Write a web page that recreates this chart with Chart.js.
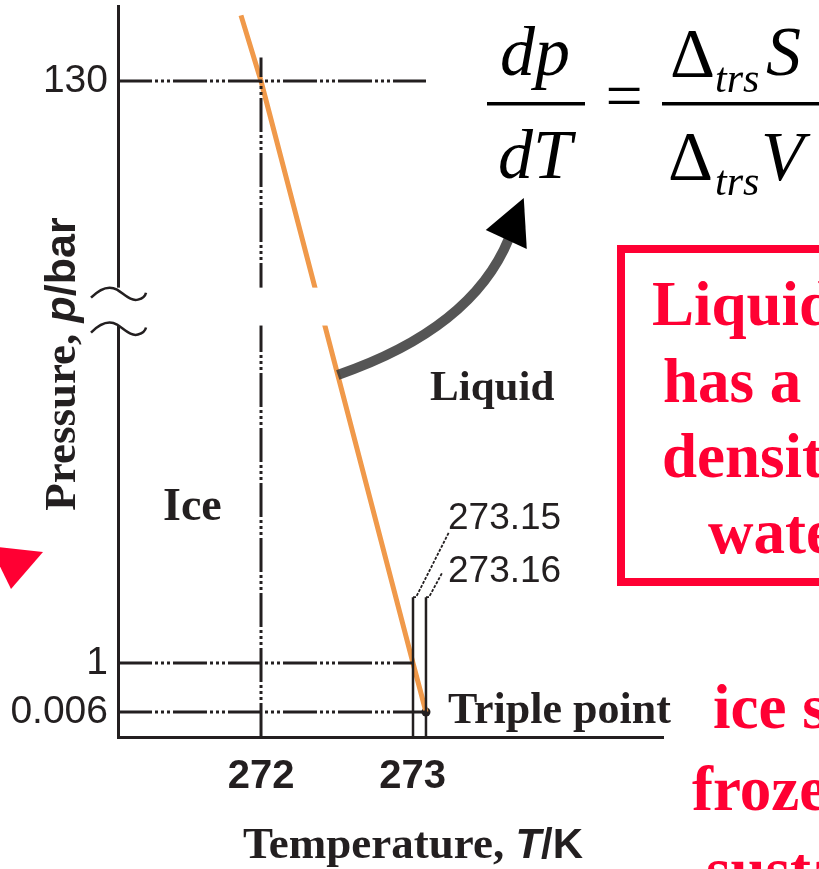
<!DOCTYPE html>
<html><head><meta charset="utf-8">
<script src="https://cdn.jsdelivr.net/npm/chart.js@4.4.0/dist/chart.umd.min.js"></script>
<style>html,body{margin:0;padding:0;background:#fff;}#wrap{width:819px;height:869px;position:relative;overflow:hidden;background:#fff}</style>
</head><body><div id="wrap"><canvas id="c" width="819" height="869"></canvas></div>
<script>
// ---------------- data ----------------
const xTickValues = [272, 273];
const xTickLabels = ['272', '273'];
const yTickValues = [0.006, 1, 130];
const yTickLabels = ['0.006', '1', '130'];
// ice / liquid boundary (melting curve)
const meltT = [271.86, 272, 273.15, 273.16];   // K
const meltP = [144, 130, 1, 0.006];             // bar
const tripleT = 273.16, tripleP = 0.006;
// dash-dot guide lines
const guideP = [130, 1, 0.006];
const guidePEndT = [273.16, 273.15, 273.16];
const guideT = 272, guideTTopP = 135;
// marker lines for 273.15 and 273.16
const markT = [273.15, 273.16];
const markLabels = ['273.15', '273.16'];
const markTopP = 15.6;
// axis break (pressure range hidden by the break)
const breakP = [75.8, 84.2];

// ---------------- broken (piecewise) axes ----------------
const xAnchors = [[271, 0], [272, 0.2624], [273, 0.5404], [273.15, 0.5413], [273.16, 0.5651], [274, 1]];
const yAnchors = [[0, 0], [0.006, 0.0342], [1, 0.1012], [130, 0.8974], [146, 1]];

function makeBroken(id, anchors, tickValues) {
  class Broken extends Chart.LinearScale {
    determineDataLimits() { this.min = anchors[0][0]; this.max = anchors[anchors.length - 1][0]; }
    buildTicks() { return tickValues.map(v => ({ value: v })); }
    _dec(v) {
      const a = anchors;
      if (v <= a[0][0]) return a[0][1] + (v - a[0][0]) * (a[1][1] - a[0][1]) / (a[1][0] - a[0][0]);
      for (let i = 1; i < a.length; i++) {
        if (v <= a[i][0]) return a[i-1][1] + (v - a[i-1][0]) * (a[i][1] - a[i-1][1]) / (a[i][0] - a[i-1][0]);
      }
      const n = a.length - 1;
      return a[n][1] + (v - a[n][0]) * (a[n][1] - a[n-1][1]) / (a[n][0] - a[n-1][0]);
    }
    getPixelForValue(v) { return (v === null || v === undefined) ? NaN : this.getPixelForDecimal(this._dec(v)); }
    getValueForPixel(p) {
      const d = this.getDecimalForPixel(p), a = anchors;
      for (let i = 1; i < a.length; i++) {
        if (d <= a[i][1]) return a[i-1][0] + (d - a[i-1][1]) * (a[i][0] - a[i-1][0]) / (a[i][1] - a[i-1][1]);
      }
      return a[a.length - 1][0];
    }
  }
  Broken.id = id;
  Broken.defaults = {};
  return Broken;
}
Chart.register(makeBroken('brokenX', xAnchors, xTickValues), makeBroken('brokenY', yAnchors, yTickValues));

// ---------------- styles ----------------
const INK = '#231f20';
const RED = '#ff0033';
const ORANGE = '#f0994a';
const DASHDOT = [34, 3, 3, 3, 3, 3, 3, 3];

const datasets = [];
guideP.forEach((p, i) => datasets.push({
  data: [{ x: xAnchors[0][0], y: p }, { x: guidePEndT[i], y: p }],
  borderColor: INK, borderWidth: 3, borderDash: DASHDOT, pointRadius: 0
}));
datasets.push({
  data: [{ x: guideT, y: 0 }, { x: guideT, y: guideTTopP }],
  borderColor: INK, borderWidth: 3, borderDash: DASHDOT, pointRadius: 0
});
markT.forEach(t => datasets.push({
  data: [{ x: t, y: 0 }, { x: t, y: markTopP }],
  borderColor: INK, borderWidth: 2.5, pointRadius: 0
}));
datasets.push({
  data: meltT.map((t, i) => ({ x: t, y: meltP[i] })),
  borderColor: ORANGE, borderWidth: 5, pointRadius: 0, tension: 0
});
const meltIndex = datasets.length - 1;
datasets.push({
  data: [{ x: tripleT, y: tripleP }],
  showLine: false, pointRadius: 4.5, pointBackgroundColor: INK, pointBorderColor: INK, pointBorderWidth: 0
});
const tripleIndex = datasets.length - 1;

function txt(ctx, s, x, y, font, color, align) {
  ctx.font = font; ctx.fillStyle = color || INK; ctx.textAlign = align || 'left'; ctx.textBaseline = 'alphabetic';
  ctx.fillText(s, x, y);
}

const annot = {
  id: 'annot',
  afterDatasetsDraw(chart) {
    const ctx = chart.ctx, xs = chart.scales.x, ys = chart.scales.y;
    const yTop = ys.getPixelForValue(breakP[1]), yBot = ys.getPixelForValue(breakP[0]);
    const ax = xs.left;
    ctx.save();
    // axis break: white gap
    ctx.fillStyle = '#fff';
    ctx.fillRect(ax - 30, yTop, xs.getPixelForValue(272.6) - ax + 30, yBot - yTop);
    // squiggles
    ctx.strokeStyle = INK; ctx.lineWidth = 2.5;
    [yTop, yBot - 3].forEach(yp => {
      ctx.beginPath();
      ctx.moveTo(ax - 27, yp + 10);
      ctx.bezierCurveTo(ax - 19, yp + 2, ax - 10, yp - 3, ax - 1, yp + 2);
      ctx.bezierCurveTo(ax + 7, yp + 7, ax + 13, yp + 14, ax + 20, yp + 12);
      ctx.quadraticCurveTo(ax + 27, yp + 10, ax + 28, yp + 5);
      ctx.stroke();
    });
    // leader lines for 273.15 / 273.16
    ctx.lineWidth = 1.8; ctx.setLineDash([3, 1.5]);
    const tp = ys.getPixelForValue(markTopP);
    const x1 = xs.getPixelForValue(markT[0]), x2 = xs.getPixelForValue(markT[1]);
    ctx.beginPath(); ctx.moveTo(x1, tp); ctx.lineTo(x1 + 3, tp); ctx.lineTo(x1 + 36, tp - 65); ctx.stroke();
    ctx.beginPath(); ctx.moveTo(x2, tp); ctx.lineTo(x2 + 3, tp); ctx.lineTo(x2 + 16, tp - 24); ctx.stroke();
    ctx.setLineDash([]);
    txt(ctx, markLabels[0], x1 + 35, tp - 68, '37px "Liberation Sans"');
    txt(ctx, markLabels[1], x1 + 35, tp - 15, '37px "Liberation Sans"');
    ctx.restore();
  },
  afterDraw(chart) {
    const ctx = chart.ctx;
    ctx.save();
    const SERIF = '"Liberation Serif", "Times New Roman", serif';
    const SANS = '"Liberation Sans", Arial, sans-serif';
    // region labels
    txt(ctx, 'Ice', 163, 520, 'bold 46px ' + SERIF);
    txt(ctx, 'Liquid', 430, 400, 'bold 43px ' + SERIF);
    const tpPt = chart.getDatasetMeta(tripleIndex).data[0];
    txt(ctx, 'Triple point', tpPt.x + 22, tpPt.y + 11, 'bold 44px ' + SERIF);

    // x axis title (mixed fonts)
    {
      const f1 = 'bold 45px ' + SERIF, f2 = 'italic bold 42px ' + SANS, f3 = 'bold 42px ' + SANS;
      ctx.font = f1; const w1 = ctx.measureText('Temperature, ').width;
      ctx.font = f2; const w2 = ctx.measureText('T').width;
      ctx.font = f3; const w3 = ctx.measureText('/K').width;
      let x = 413 - (w1 + w2 + w3) / 2; const y = 858;
      txt(ctx, 'Temperature, ', x, y, f1); x += w1;
      txt(ctx, 'T', x, y, f2); x += w2;
      txt(ctx, '/K', x, y, f3);
    }
    // y axis title (rotated, mixed fonts)
    {
      const f1 = 'bold 45px ' + SERIF, f2 = 'italic bold 43px ' + SANS, f3 = 'bold 43px ' + SANS;
      ctx.save();
      ctx.translate(75, 364); ctx.rotate(-Math.PI / 2);
      ctx.font = f1; const w1 = ctx.measureText('Pressure, ').width;
      ctx.font = f2; const w2 = ctx.measureText('p').width;
      ctx.font = f3; const w3 = ctx.measureText('/bar').width;
      let x = -(w1 + w2 + w3) / 2;
      txt(ctx, 'Pressure, ', x, 0, f1); x += w1;
      txt(ctx, 'p', x, 0, f2); x += w2;
      txt(ctx, '/bar', x, 0, f3);
      ctx.restore();
    }

    // curved arrow from the melting line to the equation
    const m = chart.getDatasetMeta(meltIndex).data;
    const t = 0.505;
    const sx = m[1].x + (m[2].x - m[1].x) * t, sy = m[1].y + (m[2].y - m[1].y) * t;
    ctx.strokeStyle = 'rgba(55,55,55,0.85)'; ctx.lineWidth = 10; ctx.lineCap = 'butt';
    ctx.beginPath(); ctx.moveTo(sx, sy);
    ctx.quadraticCurveTo(sx + 134, sy - 46, sx + 171, sy - 136);
    ctx.stroke();
    ctx.fillStyle = '#000';
    ctx.beginPath();
    ctx.moveTo(sx + 186, sy - 177); ctx.lineTo(sx + 148, sy - 145); ctx.lineTo(sx + 189, sy - 126); ctx.closePath();
    ctx.fill();

    // Clapeyron equation
    const IT = 'italic 70px ' + SERIF;
    txt(ctx, 'dp', 535, 75, IT, '#000', 'center');
    txt(ctx, 'dT', 535, 178, IT, '#000', 'center');
    ctx.fillStyle = '#000';
    ctx.fillRect(487, 102, 98, 3.5);
    txt(ctx, '=', 624, 118, '66px ' + SERIF, '#000', 'center');
    ctx.fillStyle = '#000';
    ctx.fillRect(662, 102, 170, 3.5);
    txt(ctx, 'Δ', 670, 77, '70px ' + SERIF, '#000');
    txt(ctx, 'trs', 715, 92, 'italic 42px ' + SERIF, '#000');
    txt(ctx, 'S', 766, 75, IT, '#000');
    txt(ctx, 'Δ', 668, 180, '70px ' + SERIF, '#000');
    txt(ctx, 'trs', 715, 195, 'italic 42px ' + SERIF, '#000');
    txt(ctx, 'V', 761, 180, IT, '#000');

    // red call-out box
    ctx.strokeStyle = RED; ctx.lineWidth = 8;
    ctx.strokeRect(621, 249, 300, 333);
    const RB = 'bold 63px ' + SERIF;
    txt(ctx, 'Liquid', 652, 325, RB, RED);
    txt(ctx, 'has a', 663, 402, RB, RED);
    txt(ctx, 'density', 662, 477, RB, RED);
    txt(ctx, 'water', 708, 553, RB, RED);
    txt(ctx, 'ice s', 713, 728, RB, RED);
    txt(ctx, 'frozen', 692, 810, RB, RED);
    txt(ctx, 'susta', 706, 891, RB, RED);
    // red arrow head at left edge
    ctx.fillStyle = RED;
    ctx.beginPath(); ctx.moveTo(-10, 546); ctx.lineTo(43, 552); ctx.lineTo(11, 589); ctx.closePath(); ctx.fill();
    ctx.restore();
  }
};

new Chart(document.getElementById('c'), {
  type: 'line',
  data: { datasets },
  plugins: [annot],
  options: {
    responsive: false, animation: false, events: [],
    layout: { padding: { top: 6, right: 156, left: 0, bottom: 0 } },
    plugins: { legend: { display: false }, tooltip: { enabled: false }, title: { display: false } },
    elements: { line: { tension: 0 } },
    scales: {
      x: {
        type: 'brokenX', position: 'bottom',
        grid: { display: false, drawTicks: false },
        border: { display: true, color: INK, width: 3 },
        ticks: {
          autoSkip: false, maxRotation: 0, minRotation: 0, padding: 16, color: INK,
          font: { family: 'Liberation Sans', size: 40, weight: 'bold' },
          callback: (v) => xTickLabels[xTickValues.indexOf(v)]
        },
        afterFit: (s) => { s.height = 132; s.paddingLeft = 0; s.paddingRight = 0; }
      },
      y: {
        type: 'brokenY', position: 'left',
        grid: { display: false, drawTicks: false },
        border: { display: true, color: INK, width: 3 },
        ticks: {
          autoSkip: false, padding: 10, color: INK,
          font: { family: 'Liberation Sans', size: 39 },
          callback: (v) => yTickLabels[yTickValues.indexOf(v)]
        },
        afterFit: (s) => { s.width = 118; s.paddingTop = 0; s.paddingBottom = 0; }
      }
    }
  }
});
</script></body></html>
